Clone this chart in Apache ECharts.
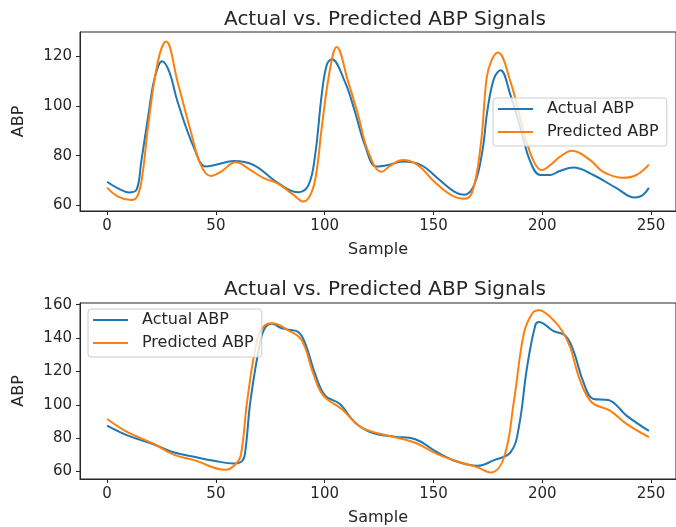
<!DOCTYPE html>
<html>
<head>
<meta charset="utf-8">
<script src="https://cdn.jsdelivr.net/npm/echarts@6/dist/echarts.min.js"></script>
<style>
html,body{margin:0;padding:0;background:#fff;}
#chart{width:676px;height:527px;}
</style>
</head>
<body>
<div id="chart"></div>
<script>
// ---- Data (sample index, ABP value) ----
const chartTitle = 'Actual vs. Predicted ABP Signals';
const seriesNames = ['Actual ABP', 'Predicted ABP'];
const xTicks = [0, 50, 100, 150, 200, 250];
const topYTicks = [60, 80, 100, 120];
const bottomYTicks = [60, 80, 100, 120, 140, 160];

const topActualX = [0, 5, 10, 13.5, 15.7, 19.2, 21.8, 25.3, 28.6, 32.4, 40, 45.4, 50, 58.3, 67.4, 76.6, 85.7, 88, 92.6, 95.6, 98.6, 100.9, 103.2, 109.3, 113.9, 118.5, 123.8, 129.1, 135.9, 144.3, 151.9, 159.5, 164.1, 168.7, 172.5, 174.7, 177.8, 180.8, 185.4, 190, 194.5, 199.1, 203.7, 208, 214.3, 223.5, 234.1, 242.5, 246, 249];
const topActualY = [69.5, 66.8, 65.2, 66.2, 77.6, 97.7, 111, 118, 113.7, 101.7, 83, 75.6, 76.3, 77.8, 76.2, 70.2, 65.5, 65.3, 68.2, 80.2, 104.3, 116.4, 118.8, 109.7, 97.7, 84.2, 75.6, 76.2, 77.6, 76.2, 70.9, 65.5, 64.2, 68.2, 82, 97.7, 111, 114.4, 104.3, 91, 77.6, 72.2, 72.2, 73.8, 75.2, 72.2, 66.9, 63.1, 64, 67];

const topPredX = [0, 5, 11.1, 14.2, 16.5, 18.7, 23.3, 27.1, 32.4, 38.5, 43.1, 47.7, 52.2, 59.1, 65.9, 72, 78.1, 85.7, 90.3, 94.1, 96.5, 98.6, 102.5, 105.5, 110.8, 115.4, 120, 126.1, 130.6, 135.9, 142.8, 150.4, 158, 164.1, 167.9, 171.7, 174.4, 176.5, 179.6, 185.4, 191.5, 196.1, 199.9, 203.7, 208, 213.6, 222, 228, 237.2, 243.2, 249];
const topPredY = [67.1, 63.5, 62.1, 64.2, 74, 91, 117.7, 126, 109.7, 89.6, 76.2, 71.8, 73.5, 77.3, 74.2, 70.9, 68.9, 64.2, 61.5, 65.5, 75, 91, 115.1, 123.8, 109.7, 96.3, 81.6, 73.5, 76.2, 78.2, 76.2, 69.5, 64.2, 62.6, 65.5, 84.2, 111, 118, 121.5, 109.7, 89.6, 77.6, 74.2, 76.2, 79.5, 82, 78.2, 73.5, 71.1, 72.2, 76.4];

const botActualX = [0, 9.6, 21, 30.9, 40, 49.2, 58.3, 62.1, 63.5, 65.9, 70.5, 72.8, 75.8, 80, 83.4, 88, 91.1, 95.6, 100.2, 107, 113.9, 121.5, 132.2, 141.3, 151.9, 161, 170.2, 177.8, 185.4, 189.2, 193, 196.8, 198.4, 205.2, 210.5, 214.3, 218.9, 223.5, 230.3, 238.7, 249];
const botActualY = [87.5, 81.5, 76.5, 71.4, 68.8, 66.4, 64.8, 66.4, 72, 102.5, 138.5, 146.5, 148.6, 146, 145, 143.5, 136.6, 118.5, 105.5, 100.5, 89.4, 83.4, 80.9, 79.5, 71.4, 65.8, 63.4, 66.8, 71.4, 86.4, 122.5, 147.6, 149.6, 144.1, 141.5, 132.5, 113.5, 103.5, 102.9, 93.5, 84.3];

const botPredX = [0, 9.6, 21, 30.9, 40, 54.5, 59.1, 61.5, 64.4, 68.9, 72, 75.8, 83.4, 89.5, 94.8, 99.4, 107.8, 116.9, 129.1, 141.3, 151.9, 164.1, 170.2, 176.2, 182.4, 187, 191.5, 195.3, 198.4, 203.7, 209, 212.8, 217.4, 222.7, 231.1, 238.7, 249];
const botPredY = [91.5, 83.4, 76.8, 70, 66.8, 61, 64.4, 70, 102.5, 138.5, 147, 148.8, 144.5, 138.5, 118.5, 105.5, 97.5, 86.4, 81.5, 77.4, 70.4, 64.8, 62.5, 59.4, 68.4, 102.5, 142.6, 154.6, 156.6, 152.6, 144.5, 134.5, 114.5, 101.5, 96.5, 88.5, 80.6];

// ---- Build chart ----
const zip = (xs, ys) => xs.map((x, i) => [x, ys[i]]);
const colors = ['#1f77b4', '#ff7f0e'];
const ink = '#262626';
const font = 'DejaVu Sans';

function xAxis(gi) {
  return {
    type: 'value', gridIndex: gi, min: -12.45, max: 261.45,
    name: 'Sample', nameLocation: 'middle', nameGap: 31,
    nameTextStyle: { fontFamily: font, fontSize: 16, color: ink },
    axisLine: { show: true, onZero: false, lineStyle: { color: ink, width: 1 } },
    axisTick: { show: true, inside: false, length: 4, customValues: xTicks, lineStyle: { color: ink } },
    axisLabel: { customValues: xTicks, fontFamily: font, fontSize: 15, color: ink, margin: 8 },
    splitLine: { show: false }
  };
}
function yAxis(gi, min, max, ticks) {
  return {
    type: 'value', gridIndex: gi, min: min, max: max,
    name: 'ABP', nameLocation: 'middle', nameGap: 53, nameRotate: 90,
    nameTextStyle: { fontFamily: font, fontSize: 16, color: ink },
    axisLine: { show: true, onZero: false, lineStyle: { color: ink, width: 1 } },
    axisTick: { show: true, inside: false, length: 4, customValues: ticks, lineStyle: { color: ink } },
    axisLabel: { customValues: ticks, fontFamily: font, fontSize: 15, color: ink, margin: 8 },
    splitLine: { show: false }
  };
}
function line(name, data, color, xi, yi) {
  return {
    type: 'line', name: name, xAxisIndex: xi, yAxisIndex: yi, data: data,
    smooth: 0.4, showSymbol: false, symbol: 'none',
    lineStyle: { color: color, width: 2 }, itemStyle: { color: color }
  };
}
function legend(left, top) {
  return {
    show: true, left: left, top: top, orient: 'vertical',
    data: seriesNames.map(n => ({ name: n, icon: 'rect' })),
    itemWidth: 35, itemHeight: 2, itemGap: 5,
    padding: [2, 8, 5, 5],
    backgroundColor: 'rgba(255,255,255,0.8)', borderColor: '#cccccc', borderWidth: 1, borderRadius: 3,
    textStyle: { fontFamily: font, fontSize: 16, color: ink, lineHeight: 18, padding: [0, 0, 0, 9] }
  };
}

const option = {
  animation: false,
  backgroundColor: '#fff',
  color: colors,
  title: [
    { text: chartTitle, left: 380, top: 5, textAlign: 'center',
      textStyle: { fontFamily: font, fontSize: 20, fontWeight: 'normal', color: ink } },
    { text: chartTitle, left: 380, top: 275, textAlign: 'center',
      textStyle: { fontFamily: font, fontSize: 20, fontWeight: 'normal', color: ink } }
  ],
  grid: [
    { left: 80, top: 32, width: 600, height: 179, show: true, borderColor: ink, borderWidth: 1, backgroundColor: 'transparent' },
    { left: 80, top: 303, width: 600, height: 178, show: true, borderColor: ink, borderWidth: 1, backgroundColor: 'transparent' }
  ],
  legend: [ legend(493, 98), legend(88, 309) ],
  xAxis: [ xAxis(0), xAxis(1) ],
  yAxis: [ yAxis(0, 57.7, 129.8, topYTicks), yAxis(1, 55.5, 161, bottomYTicks) ],
  series: [
    line(seriesNames[0], zip(topActualX, topActualY), colors[0], 0, 0),
    line(seriesNames[1], zip(topPredX, topPredY), colors[1], 0, 0),
    line(seriesNames[0], zip(botActualX, botActualY), colors[0], 1, 1),
    line(seriesNames[1], zip(botPredX, botPredY), colors[1], 1, 1)
  ]
};
const chart = echarts.init(document.getElementById('chart'), null, { renderer: 'canvas' });
chart.setOption(option);
</script>
</body>
</html>
